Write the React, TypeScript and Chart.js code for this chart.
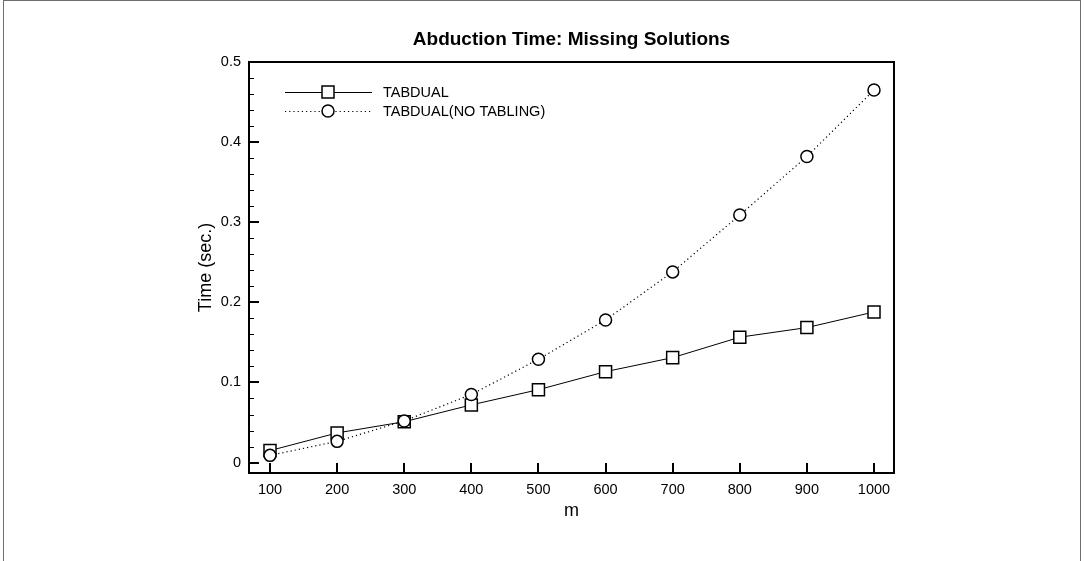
import { useEffect, useRef } from "react";
import { Chart, registerables } from "chart.js";

Chart.register(...registerables);

const mValues = [100, 200, 300, 400, 500, 600, 700, 800, 900, 1000];
const tabdual = [0.015, 0.037, 0.051, 0.072, 0.091, 0.1135, 0.131, 0.1565, 0.1685, 0.188];
const noTabling = [0.009, 0.0265, 0.052, 0.085, 0.129, 0.178, 0.238, 0.309, 0.382, 0.465];
const xTicks = [100, 200, 300, 400, 500, 600, 700, 800, 900, 1000];
const yTicks = [0, 0.1, 0.2, 0.3, 0.4, 0.5];
const yMinorTicks = [
  0.02, 0.04, 0.06, 0.08, 0.12, 0.14, 0.16, 0.18, 0.22, 0.24, 0.26, 0.28,
  0.32, 0.34, 0.36, 0.38, 0.42, 0.44, 0.46, 0.48,
];
const seriesNames = ["TABDUAL", "TABDUAL(NO TABLING)"];
const titleText = "Abduction Time: Missing Solutions";
const xTitle = "m";
const yTitle = "Time (sec.)";

const FONT = "'Liberation Sans', Arial, Helvetica, sans-serif";

const decorPlugin = {
  id: "decor",
  afterDraw(chart: any) {
    const ctx = chart.ctx as CanvasRenderingContext2D;
    const { left, right, top, bottom } = chart.chartArea;
    const xs = chart.scales.x;
    const ys = chart.scales.y;
    ctx.save();

    // outer figure frame
    ctx.strokeStyle = "#6e6e6e";
    ctx.lineWidth = 1;
    ctx.strokeRect(3.5, 0.5, 1077, 620);

    // plot frame
    ctx.strokeStyle = "#000";
    ctx.lineWidth = 2;
    ctx.strokeRect(left, top, right - left, bottom - top);

    // x major ticks (inward)
    ctx.lineWidth = 2;
    ctx.beginPath();
    for (const v of xTicks) {
      const px = Math.round(xs.getPixelForValue(v));
      ctx.moveTo(px, bottom);
      ctx.lineTo(px, bottom - 10);
    }
    ctx.stroke();

    // y major ticks
    ctx.beginPath();
    for (const v of yTicks) {
      const py = Math.round(ys.getPixelForValue(v));
      ctx.moveTo(left, py);
      ctx.lineTo(left + 10, py);
    }
    ctx.stroke();

    // y minor ticks
    ctx.lineWidth = 1;
    ctx.beginPath();
    for (const v of yMinorTicks) {
      const py = Math.round(ys.getPixelForValue(v)) + 0.5;
      ctx.moveTo(left, py);
      ctx.lineTo(left + 5, py);
    }
    ctx.stroke();

    // title
    ctx.fillStyle = "#000";
    ctx.textAlign = "center";
    ctx.textBaseline = "middle";
    ctx.font = `bold 19px ${FONT}`;
    ctx.fillText(titleText, (left + right) / 2, 40);

    // axis titles
    ctx.font = `18px ${FONT}`;
    ctx.fillText(xTitle, (left + right) / 2, 511);
    ctx.save();
    ctx.translate(206, (top + bottom) / 2);
    ctx.rotate(-Math.PI / 2);
    ctx.fillText(yTitle, 0, 0);
    ctx.restore();

    // legend
    const rows = [92, 111];
    const x0 = 285, x1 = 372, mx = 328;
    ctx.font = `14.5px ${FONT}`;
    ctx.textAlign = "left";
    rows.forEach((ry, i) => {
      ctx.strokeStyle = "#000";
      ctx.lineWidth = 1;
      ctx.setLineDash(i === 0 ? [] : [1.2, 3]);
      ctx.beginPath();
      ctx.moveTo(x0, ry + 0.5);
      ctx.lineTo(x1, ry + 0.5);
      ctx.stroke();
      ctx.setLineDash([]);
      ctx.lineWidth = 1.5;
      ctx.fillStyle = "#fff";
      ctx.beginPath();
      if (i === 0) {
        ctx.rect(mx - 6, ry - 6, 12, 12);
      } else {
        ctx.arc(mx, ry, 6, 0, Math.PI * 2);
      }
      ctx.fill();
      ctx.stroke();
      ctx.fillStyle = "#000";
      ctx.fillText(seriesNames[i], 383, ry + 1);
    });

    ctx.restore();
  },
};

export default function App() {
  const ref = useRef<HTMLCanvasElement | null>(null);

  useEffect(() => {
    document.body.style.margin = "0";
    const canvas = ref.current;
    if (!canvas) return;
    const chart = new Chart(canvas, {
      type: "line",
      data: {
        datasets: [
          {
            label: seriesNames[0],
            data: mValues.map((m, i) => ({ x: m, y: tabdual[i] })),
            borderColor: "#000",
            borderWidth: 1,
            backgroundColor: "#fff",
            pointStyle: "rect",
            pointRadius: 8.5,
            pointBorderWidth: 1.5,
            pointBorderColor: "#000",
            pointBackgroundColor: "#fff",
            tension: 0,
            order: 2,
          },
          {
            label: seriesNames[1],
            data: mValues.map((m, i) => ({ x: m, y: noTabling[i] })),
            borderColor: "#000",
            borderWidth: 1.2,
            borderDash: [1.2, 3],
            backgroundColor: "#fff",
            pointStyle: "circle",
            pointRadius: 6,
            pointBorderWidth: 1.5,
            pointBorderColor: "#000",
            pointBackgroundColor: "#fff",
            tension: 0,
            order: 1,
          },
        ],
      },
      options: {
        animation: false,
        responsive: false,
        maintainAspectRatio: false,
        layout: { padding: { left: 0, top: 62, right: 190, bottom: 0 } },
        plugins: {
          legend: { display: false },
          title: { display: false },
          tooltip: { enabled: false },
        },
        scales: {
          x: {
            type: "linear",
            min: 68.7,
            max: 1029.8,
            grid: { display: false, drawTicks: false },
            border: { display: false },
            ticks: {
              padding: 8,
              color: "#000",
              font: { family: FONT, size: 14.5 },
              callback: (v: any) => String(v),
            },
            afterBuildTicks: (scale: any) => {
              scale.ticks = xTicks.map((v) => ({ value: v }));
            },
            afterFit: (scale: any) => {
              scale.height = 88;
            },
          },
          y: {
            type: "linear",
            min: -0.013,
            max: 0.5,
            grid: { display: false, drawTicks: false },
            border: { display: false },
            ticks: {
              padding: 8,
              color: "#000",
              font: { family: FONT, size: 14.5 },
              callback: (v: any) => String(v),
            },
            afterBuildTicks: (scale: any) => {
              scale.ticks = yTicks.map((v) => ({ value: v }));
            },
            afterFit: (scale: any) => {
              scale.width = 249;
            },
          },
        },
      },
      plugins: [decorPlugin],
    });
    return () => chart.destroy();
  }, []);

  return (
    <div style={{ width: 1084, height: 561, background: "#fff" }}>
      <canvas ref={ref} width={1084} height={561} style={{ display: "block" }} />
    </div>
  );
}
